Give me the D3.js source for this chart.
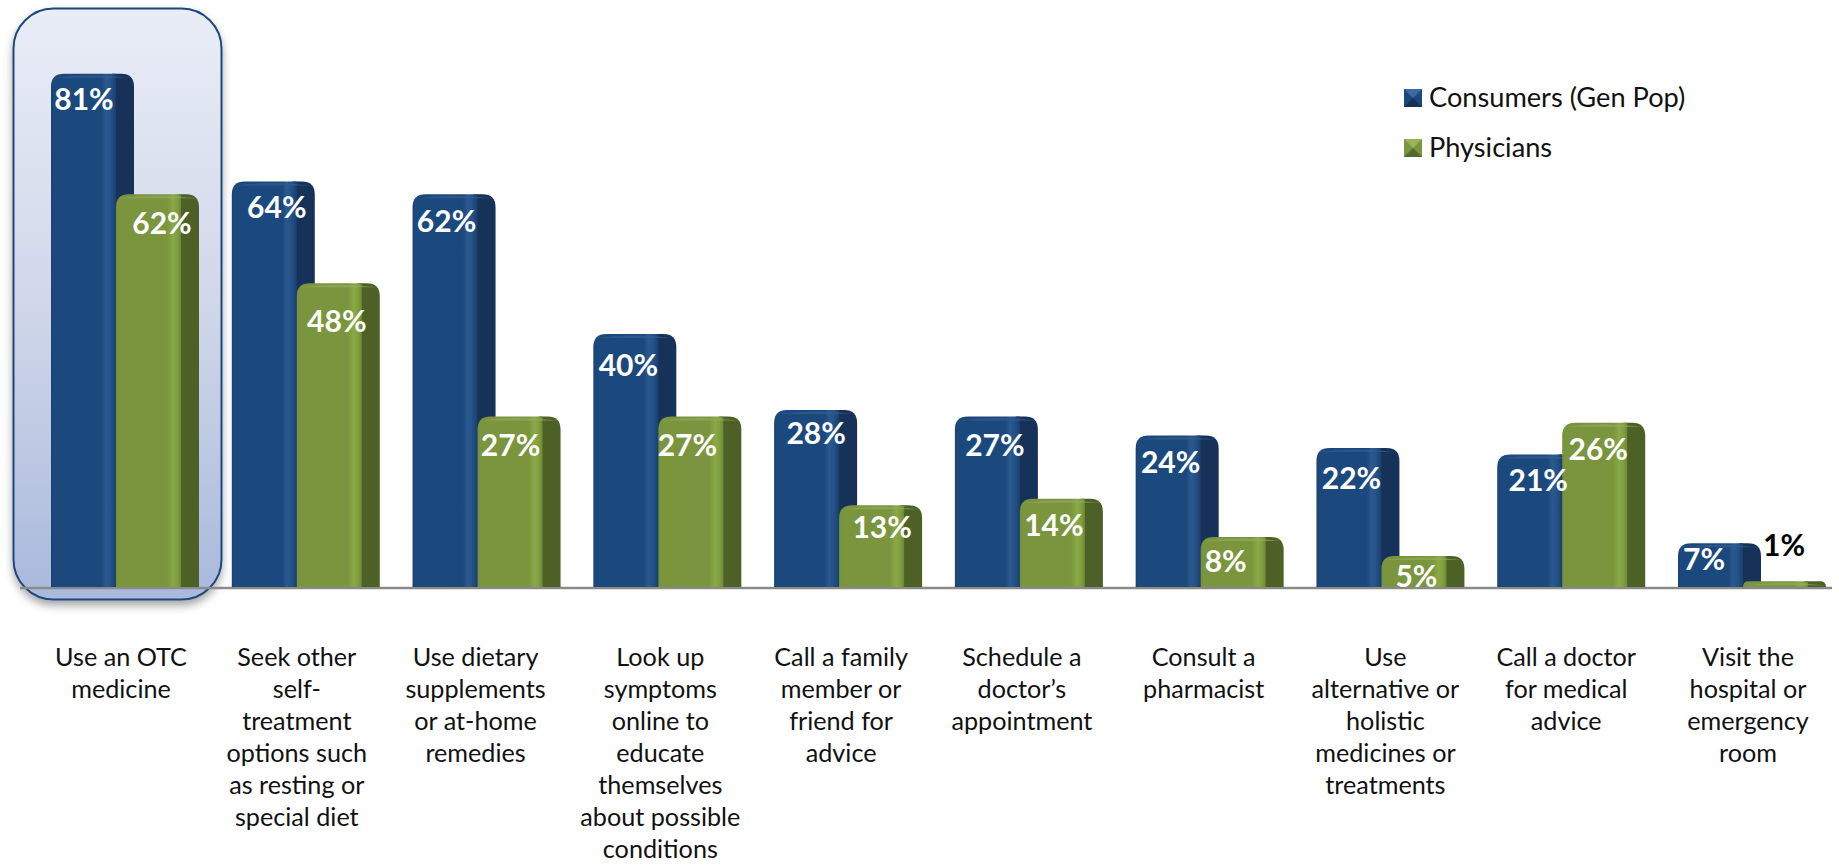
<!DOCTYPE html>
<html><head><meta charset="utf-8">
<script src="https://cdn.jsdelivr.net/npm/d3@7"></script>
<style>html,body{margin:0;padding:0;background:#fff}svg{display:block}text{font-family:Lato,"Open Sans",sans-serif}</style>
</head><body><svg id="c" width="1839" height="868"></svg>
<script>
const categories=[
 ["Use an OTC","medicine"],
 ["Seek other","self-","treatment","options such","as resting or","special diet"],
 ["Use dietary","supplements","or at-home","remedies"],
 ["Look up","symptoms","online to","educate","themselves","about possible","conditions"],
 ["Call a family","member or","friend for","advice"],
 ["Schedule a","doctor\u2019s","appointment"],
 ["Consult a","pharmacist"],
 ["Use","alternative or","holistic","medicines or","treatments"],
 ["Call a doctor","for medical","advice"],
 ["Visit the","hospital or","emergency","room"]];
const consumers=[81,64,62,40,28,27,24,22,21,7];
const physicians=[62,48,27,27,13,14,8,5,26,1];
const seriesNames=["Consumers (Gen Pop)","Physicians"];
// hand-placed label nudges, as in the original slide
const consumerNudge=[[33,26],[45,26],[34,27],[35,32],[42,23],[40,29],[35,27],[35,30],[41,26],[26,16]];
const physicianNudge=[[46,29],[40,38],[33,29],[29,29],[43,22],[34,27],[25,25],[35,21],[36,27],[41,-36]];
const catNudge=[0,-5,-7,-3,-3,-3,-2,-1,-1,0];

const svg=d3.select("#c");
const W=83,F=65,SIDE=W-F,R=13;
const x=d3.scaleLinear().domain([0,9]).range([51,1678]);
const y=d3.scaleLinear().domain([0,100]).range([587.7,-46.8]);
const defs=svg.append("defs");

function grad(id,stops,dir){
 const g=defs.append("linearGradient").attr("id",id);
 if(dir==="h")g.attr("x1",0).attr("x2",1).attr("y1",0).attr("y2",0);
 else g.attr("x1",0).attr("x2",0).attr("y1",0).attr("y2",1);
 stops.forEach(s=>g.append("stop").attr("offset",s[0]).attr("stop-color",s[1]));
}
grad("hl",[[0,"#e9edf7"],[.5,"#d0d7e9"],[1,"#a9b9dc"]]);
grad("frontB",[[0,"#1c4070"],[.04,"#1f497d"],[.78,"#1f497d"],[.85,"#2a5a90"],[.93,"#234f85"],[1,"#1b3f6d"]],"h");
grad("frontG",[[0,"#74913a"],[.04,"#7a953c"],[.78,"#7a953c"],[.88,"#8aa946"],[.95,"#7f9c3e"],[1,"#6d8835"]],"h");
const f1=defs.append("filter").attr("id","soft").attr("x","-5%").attr("y","-5%").attr("width","110%").attr("height","110%");
f1.append("feGaussianBlur").attr("stdDeviation",.7);
const f2=defs.append("filter").attr("id","shadow").attr("x","-10%").attr("y","-10%").attr("width","120%").attr("height","120%");
f2.append("feDropShadow").attr("dx",0).attr("dy",5).attr("stdDeviation",4).attr("flood-color","#000").attr("flood-opacity",.35);

// highlight panel
svg.append("rect").attr("x",13.5).attr("y",8.5).attr("width",208).attr("height",591).attr("rx",40)
 .attr("fill","url(#hl)").attr("stroke","#1f497d").attr("stroke-width",2).attr("filter","url(#shadow)");

// baseline
const g=svg.append("g").attr("filter","url(#soft)");
g.append("line").attr("x1",20).attr("x2",1832).attr("y1",588).attr("y2",588).attr("stroke","#8a8a8a").attr("stroke-width",2.4);

function drawBar(sel,v,x0,front,side,cap){
 const t=y(v),b=587;
 const r=Math.min(R,(b-t));
 sel.append("path").attr("d",`M${x0+F-4},${b}V${t}H${x0+W-r}Q${x0+W},${t} ${x0+W},${t+r}V${b}Z`).attr("fill",side);
 sel.append("path").attr("d",`M${x0},${b}V${t+r}Q${x0},${t} ${x0+r},${t}H${x0+F}V${b}Z`).attr("fill",front);
 const h=Math.min(4,b-t);
 sel.append("path").attr("d",`M${x0+3},${t+h}Q${x0+W/2},${t-1} ${x0+W-3},${t+h}`).attr("fill",cap).attr("opacity",.6);
}
const bars=g.selectAll("g.grp").data(categories).join("g").attr("class","grp");
bars.each(function(d,i){
 const s=d3.select(this);
 drawBar(s,consumers[i],x(i),"url(#frontB)","#163359","#3a5f91");
 drawBar(s,physicians[i],x(i)+65,"url(#frontG)","#4e6127","#97ad68");
});

// data labels
const lab=svg.append("g").attr("font-weight",700).attr("font-size",30).attr("text-anchor","middle");
categories.forEach((c,i)=>{
 lab.append("text").attr("x",x(i)+consumerNudge[i][0]).attr("y",y(consumers[i])+consumerNudge[i][1]).attr("dy",".35em").attr("fill","#fff").text(consumers[i]+"%");
 lab.append("text").attr("x",x(i)+65+physicianNudge[i][0]).attr("y",y(physicians[i])+physicianNudge[i][1]).attr("dy",".35em").attr("fill",physicians[i]<2?"#000":"#fff").text(physicians[i]+"%");
});

// category labels
const cat=svg.append("g").attr("font-size",25.2).attr("text-anchor","middle").attr("fill","#111");
categories.forEach((lines,i)=>{
 const t=cat.append("text").attr("x",x(i)+70+catNudge[i]).attr("y",666);
 lines.forEach((l,k)=>t.append("tspan").attr("x",x(i)+70+catNudge[i]).attr("y",666+k*32).text(l));
});

// legend
const leg=svg.append("g");
const swatch=[["#1f497d","#3d6aa3","#12305a"],["#7a953c","#9ab356","#55692a"]];
seriesNames.forEach((n,i)=>{
 const yy=89+i*50,xx=1404,S=18,c=swatch[i];
 const q=leg.append("g").attr("filter","url(#soft)");
 q.append("rect").attr("x",xx).attr("y",yy).attr("width",S).attr("height",S).attr("fill",c[0]);
 q.append("path").attr("d",`M${xx},${yy}H${xx+S}L${xx+S/2},${yy+S/2}Z`).attr("fill",c[1]);
 q.append("path").attr("d",`M${xx},${yy+S}H${xx+S}L${xx+S/2},${yy+S/2}Z`).attr("fill",c[2]);
 leg.append("text").attr("x",1429).attr("y",yy+18).attr("font-size",27.2).attr("fill","#111").text(n);
});
</script></body></html>
